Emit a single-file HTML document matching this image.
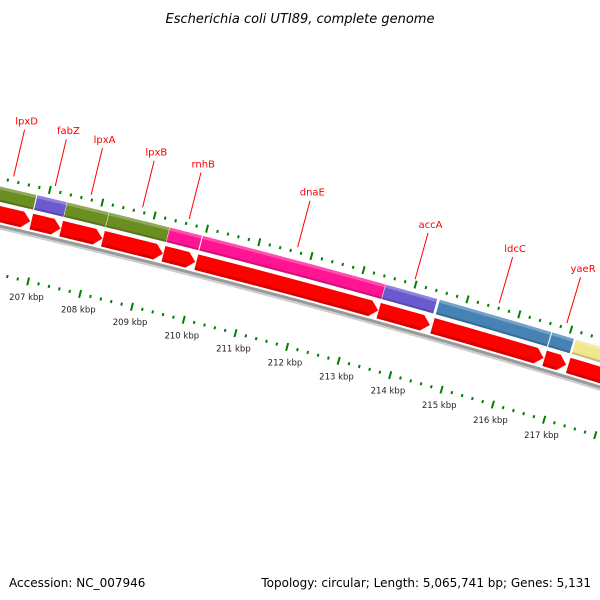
<!DOCTYPE html>
<html><head><meta charset="utf-8">
<style>
html,body{margin:0;padding:0;background:#fff;}
svg{display:block;}
text{font-family:"DejaVu Sans","Liberation Sans",sans-serif;}
</style></head>
<body>
<svg id="map" width="600" height="600" viewBox="0 0 600 600" xmlns="http://www.w3.org/2000/svg">
  <text x="300" y="23" text-anchor="middle" font-size="13" font-style="italic" fill="#000">Escherichia coli UTI89, complete genome</text>
  <g id="layer"></g>
  <text x="9" y="587" font-size="12" fill="#000">Accession: NC_007946</text>
  <text x="591" y="587" font-size="12" text-anchor="end" fill="#000">Topology: circular; Length: 5,065,741 bp; Genes: 5,131</text>
</svg>
<script>
// gene data (kbp)
const geneNames  = ["lpxD","fabZ","lpxA","lpxB","rnhB","dnaE","accA","ldcC","yaeR",""];
const geneStarts = [205.80,206.80,207.37,208.17,209.33,209.96,213.47,214.51,216.68,217.14];
const geneEnds   = [206.78,207.36,208.16,209.32,209.94,213.46,214.46,216.66,217.10,218.60];
const geneColors = ["#6b8e23","#6a5acd","#6b8e23","#6b8e23","#ff1493","#ff1493","#6a5acd","#4682b4","#4682b4","#f0e68c"];
const tickLabels = [207,208,209,210,211,212,213,214,215,216,217];

const NS="http://www.w3.org/2000/svg";
const layer=document.getElementById('layer');
const R=9300, th0=13.35*Math.PI/180, dth=0.005774; // rad per kbp
const B0=[39,235.7];
const C=[B0[0]-R*Math.sin(th0), B0[1]+R*Math.cos(th0)];
function theta(k){return th0+(k-207)*dth;}
function pt(k,r){const t=theta(k);return [C[0]+(R+r)*Math.sin(t), C[1]-(R+r)*Math.cos(t)];}
function el(tag,attrs){const e=document.createElementNS(NS,tag);for(const a in attrs)e.setAttribute(a,attrs[a]);layer.appendChild(e);return e;}
function band(k1,k2,r1,r2){
  const pts=[],n=12;
  for(let i=0;i<=n;i++)pts.push(pt(k1+(k2-k1)*i/n,r2));
  for(let i=n;i>=0;i--)pts.push(pt(k1+(k2-k1)*i/n,r1));
  return pts.map(p=>p[0].toFixed(2)+','+p[1].toFixed(2)).join(' ');
}
// backbone
const bb=el('polygon',{points:band(204,220,-3,2),fill:'#999'});


const bb2=el('polygon',{points:band(204,220,-3,-1),fill:'#cfcfcf'});


// tick rings
function ticks(r,name){
  for(let i=0;i<=70;i++){
    const k=204+i*0.2;
    const major=(i%5===0);
    const len=major?8:3;
    const a=pt(k,r-len/2), b=pt(k,r+len/2);
    const t=el('line',{x1:a[0],y1:a[1],x2:b[0],y2:b[1],stroke:'#008000','stroke-width':2});
    
    
  }
}
ticks(47,'outer');
ticks(-47,'inner');
tickLabels.forEach(v=>{
  const p=pt(v,-63);
  const t=el('text',{x:(p[0]+2).toFixed(1),y:(p[1]+3).toFixed(1),'text-anchor':'middle','font-size':'8.5',fill:'#222'});
  t.textContent=v+' kbp';
  
  
});
// genes
for(let i=0;i<geneNames.length;i++){
  const s=geneStarts[i], e=geneEnds[i];
  const g=el('polygon',{points:band(s,e,24,39),fill:geneColors[i]});
  
  
  const h=el('polygon',{points:band(s,e,36,39),fill:'#fff','fill-opacity':0.25});
  
  
  const d=el('polygon',{points:band(s,e,24,26),fill:'#000','fill-opacity':0.18});
  
  
  // arrow (red track)
  const head=Math.min(0.15,(e-s)*0.5);
  const pts=[];const n=10;
  for(let j=0;j<=n;j++)pts.push(pt(s+(e-head-s)*j/n,20));
  pts.push(pt(e,12));
  for(let j=n;j>=0;j--)pts.push(pt(s+(e-head-s)*j/n,4));
  const a=el('polygon',{points:pts.map(p=>p[0].toFixed(2)+','+p[1].toFixed(2)).join(' '),fill:'#ff0000'});
  
  
  const ah=el('polygon',{points:band(s,e-head,4,7),fill:'#000','fill-opacity':0.15});
  
  
  if(geneNames[i]){
    const c=(s+e)/2;
    const p1=pt(c,52), p2=pt(c,100);
    const ln=el('line',{x1:p1[0],y1:p1[1],x2:p2[0],y2:p2[1],stroke:'#ff0000','stroke-width':1});
    
    
    const tp=pt(c,109);
    const tx=el('text',{x:tp[0].toFixed(1),y:(tp[1]+3.5).toFixed(1),'text-anchor':'middle','font-size':'10',fill:'#ff0000'});
    tx.textContent=geneNames[i];
    
    
  }
}
</script>
</body></html>
